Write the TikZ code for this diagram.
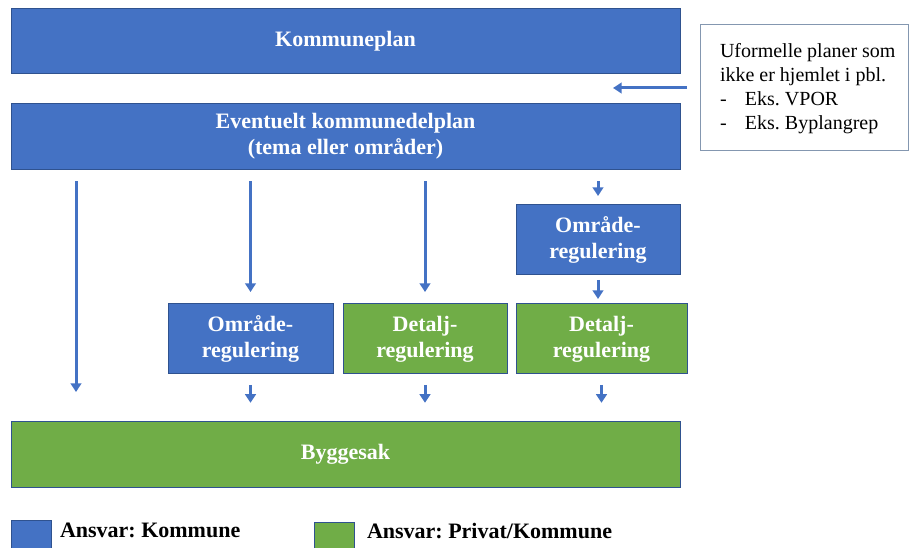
\documentclass[tikz,border=0pt]{standalone}
\usepackage{fontspec}
\setmainfont{Liberation Serif}
\usetikzlibrary{arrows.meta}
\definecolor{kblaa}{HTML}{4472C4}
\definecolor{kgroenn}{HTML}{70AD47}
\definecolor{kkant}{HTML}{2F528F}
\definecolor{infokant}{HTML}{8497B0}
\frenchspacing

\begin{document}
\begin{tikzpicture}[x=0.75pt,y=-0.75pt]
        \tikzstyle{every node}=[inner sep=0pt, outer sep=0pt]
        \tikzstyle{boks}=[draw=kkant, line width=0.75pt, text=white, align=center,
                font=\bfseries\fontsize{16.5}{19.5}\selectfont]
        \tikzstyle{kommune}=[boks, fill=kblaa]
        \tikzstyle{privat}=[boks, fill=kgroenn]
        \tikzstyle{bred}=[minimum width=501.75pt, minimum height=49pt]
        \tikzstyle{liten}=[minimum height=52.5pt]
        \tikzstyle{pil}=[kblaa, line width=2.25pt, -{Triangle[length=6.5pt,width=8pt]}]
        \tikzstyle{forklaring}=[anchor=west, font=\bfseries\fontsize{16.5}{19.5}\selectfont]
        \useasboundingbox (0,0) rectangle (909,548);

        \node[kommune,bred] (kp) at (345.5,41) {Kommuneplan};
        \node[kommune,bred] (ev) at (345.5,136.5) {Eventuelt kommunedelplan\\(tema eller områder)};
        \node[draw=infokant, line width=0.75pt, minimum width=156pt, minimum height=94.5pt] (info) at (804,88) {};
        \node[anchor=west, align=left, font=\fontsize{15}{18}\selectfont] (infotxt) at (720,89)
                {Uformelle planer som\\ikke er hjemlet i pbl.\\
                 \makebox[18.75pt][l]{-}Eks. VPOR\\\makebox[18.75pt][l]{-}Eks. Byplangrep};
        \coordinate (pilende) at (613,88);
        \draw[pil, shorten <=9.75pt] (info.west) -- (pilende);

        \node[kommune,liten,minimum width=123pt] (omr2) at (598,240) {Område-\\regulering};
        \node[kommune,liten,minimum width=123.75pt] (omr1) at (250.5,339) {Område-\\regulering};
        \node[privat,liten,minimum width=123pt] (det1) at (425,339) {Detalj-\\regulering};
        \node[privat,liten,minimum width=128.25pt] (det2) at (601.5,339) {Detalj-\\regulering};
        \node[privat,bred] (bygg) at (345.5,454.5) {Byggesak};

        \coordinate (venstre) at (76,392);
        \draw[pil, shorten <=9pt] (ev.south -| venstre) -- (venstre);
        \draw[pil, shorten <=9pt, shorten >=9pt] (ev.south -| omr1.north) -- (omr1.north);
        \draw[pil, shorten <=9pt, shorten >=9pt] (ev.south -| det1.north) -- (det1.north);
        \draw[pil, shorten <=9pt, shorten >=6.75pt] (ev.south -| omr2.north) -- (omr2.north);
        \draw[pil, shorten <=3.75pt, shorten >=3.75pt] (omr2.south) -- (omr2.south |- det2.north);
        \foreach \b in {omr1,det1,det2}
                \draw[pil, shorten <=8.25pt, shorten >=14.25pt] (\b.south) -- (\b.south |- bygg.north);

        \node[kommune, minimum width=30pt, minimum height=30pt] (lblaa) at (31,540) {};
        \node[privat, minimum width=30pt, minimum height=30pt] (lgroenn) at (334,542) {};
        \node[forklaring] (lkommune) at (60,530) {Ansvar: Kommune};
        \node[forklaring] (lprivat) at (367,531) {Ansvar: Privat/Kommune};
\end{tikzpicture}
\end{document}
